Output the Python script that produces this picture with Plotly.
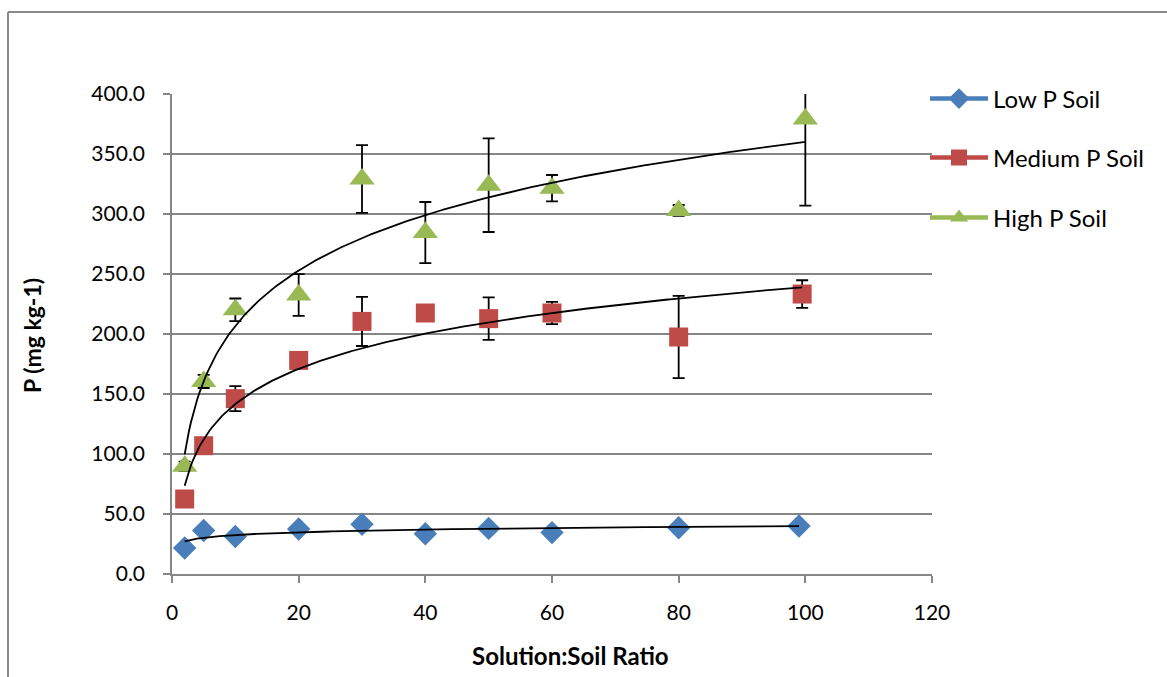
import numpy as np
import plotly.graph_objects as go

# ---- data ----
low_x = [2, 5, 10, 20, 30, 40, 50, 60, 80, 99]
low_y = [21.7, 36.3, 31.3, 37.5, 41.4, 33.6, 38.0, 34.5, 38.6, 40.0]

med_x = [2, 5, 10, 20, 30, 40, 50, 60, 80, 99.5]
med_y = [62.5, 106.9, 146.1, 178.0, 210.5, 217.5, 212.8, 217.5, 197.5, 233.3]
med_err = [2, 2, 10.4, 2, 20.5, 2, 17.7, 9.3, 34.3, 11.5]

high_x = [2, 5, 10, 20, 30, 40, 50, 60, 80, 100]
high_y = [89.7, 160.5, 220.2, 232.5, 329.2, 284.5, 324.0, 321.5, 303.0, 379.2]
high_err = [4, 5.5, 9.4, 17.4, 28.2, 25.5, 39.0, 11.0, 4.5, 72.3]

series_names = ["Low P Soil", "Medium P Soil", "High P Soil"]
colors = ["#4A7EBB", "#BE4B48", "#98B954"]
symbols = ["diamond", "square", "triangle-up"]
sizes = [18, 19, 22]

x_ticks = [0, 20, 40, 60, 80, 100, 120]
y_ticks = [0, 50, 100, 150, 200, 250, 300, 350, 400]

FONT = "Lato, Carlito, 'Open Sans', sans-serif"
GRID = "#868686"


def log_trend(x, y):
    a, b = np.polyfit(np.log(x), y, 1)
    xs = np.linspace(min(x), max(x), 300)
    return xs, a * np.log(xs) + b


fig = go.Figure()

data = [(low_x, low_y, None), (med_x, med_y, med_err), (high_x, high_y, high_err)]

for i, (xv, yv, ev) in enumerate(data):
    kw = {}
    if ev is not None:
        kw["error_y"] = dict(type="data", array=ev, visible=True,
                             color="black", thickness=1.8, width=6)
    fig.add_trace(go.Scatter(
        x=xv, y=yv, mode="markers", showlegend=False,
        marker=dict(symbol=symbols[i], size=sizes[i], color=colors[i],
                    line=dict(width=0)),
        **kw))

# trendlines drawn on top
for xv, yv, _ in data:
    tx, ty = log_trend(xv, yv)
    fig.add_trace(go.Scatter(x=tx, y=ty, mode="lines", showlegend=False,
                             line=dict(color="black", width=1.8),
                             hoverinfo="skip"))

# legend entries (line + marker)
legend_ids = ["legend", "legend2", "legend3"]
for i, name in enumerate(series_names):
    fig.add_trace(go.Scatter(
        x=[None], y=[None], mode="lines+markers", name=name,
        legend=legend_ids[i],
        line=dict(color=colors[i], width=4.5),
        marker=dict(symbol=symbols[i], size=sizes[i], color=colors[i])))

# plot area: x 172..932, y 94..574
L, R, T, B = 172, 235, 94, 103
W, H = 1167, 677
pw, ph = W - L - R, H - T - B


def px_x(px):
    return (px - L) / pw


def px_y(py):
    return (H - B - py) / ph


legend_y_px = [99, 158, 218]
legend_common = dict(font=dict(family=FONT, size=24, color="black"),
                     bgcolor="rgba(0,0,0,0)", borderwidth=0,
                     xanchor="left", yanchor="middle", itemwidth=58)
fig.update_layout(
    legend=dict(x=px_x(925), y=px_y(legend_y_px[0]), **legend_common),
    legend2=dict(x=px_x(925), y=px_y(legend_y_px[1]), **legend_common),
    legend3=dict(x=px_x(925), y=px_y(legend_y_px[2]), **legend_common),
)

fig.update_layout(
    width=W, height=H,
    margin=dict(l=L, r=R, t=T, b=B, pad=0),
    paper_bgcolor="white", plot_bgcolor="white",
    font=dict(family=FONT, size=21, color="black"),
    xaxis=dict(range=[0, 120], tickvals=x_ticks, showgrid=False,
               showline=True, linecolor=GRID, linewidth=1.5,
               ticks="outside", ticklen=7, tickcolor=GRID, tickwidth=1.5,
               ticklabelstandoff=12,
               zeroline=False, tickfont=dict(family=FONT, size=21)),
    yaxis=dict(range=[0, 400], tickvals=y_ticks, tickformat=".1f",
               showgrid=True, gridcolor=GRID, gridwidth=1.5,
               showline=True, linecolor=GRID, linewidth=1.5,
               ticks="outside", ticklen=7, tickcolor=GRID, tickwidth=1.5,
               ticklabelstandoff=14,
               zeroline=False, tickfont=dict(family=FONT, size=21)),
    annotations=[
        dict(text="<b>Solution:Soil Ratio</b>", xref="paper", yref="paper",
             x=px_x(570), y=px_y(655), showarrow=False,
             font=dict(family=FONT, size=24, color="black"),
             xanchor="center", yanchor="middle"),
        dict(text="<b>P (mg kg-1)</b>", xref="paper", yref="paper",
             x=px_x(32), y=px_y(336), showarrow=False, textangle=-90,
             font=dict(family=FONT, size=23, color="black"),
             xanchor="center", yanchor="middle"),
    ],
    shapes=[
        dict(type="line", xref="paper", yref="paper",
             x0=px_x(8), x1=px_x(1180), y0=px_y(12), y1=px_y(12),
             line=dict(color="#898989", width=2)),
        dict(type="line", xref="paper", yref="paper",
             x0=px_x(8), x1=px_x(8), y0=px_y(12), y1=px_y(690),
             line=dict(color="#898989", width=2)),
    ],
)

fig.write_html("out.html")
